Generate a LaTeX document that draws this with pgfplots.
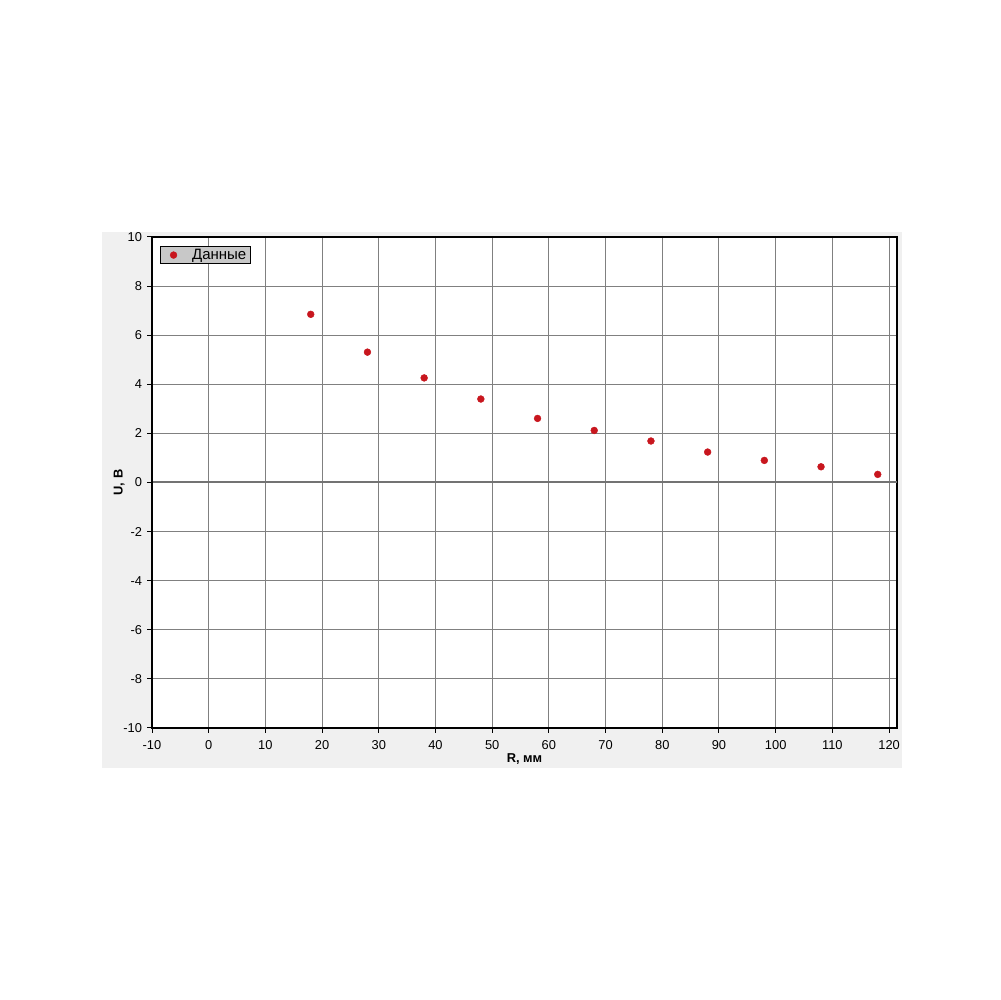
\documentclass[border=0pt]{standalone}
\usepackage{fontspec}
\setmainfont{Liberation Sans}
\usepackage{pgfplots}
\pgfplotsset{compat=1.18}
\definecolor{panel}{RGB}{240,240,240}
\definecolor{gridgray}{RGB}{128,128,128}
\definecolor{legfill}{RGB}{200,200,200}
\definecolor{dotred}{RGB}{200,22,30}
\begin{document}
\begin{tikzpicture}
\fill[white] (-106.4pt,-190.4pt) rectangle (593.6pt,509.6pt);
\fill[panel] (-35pt,-28pt) rectangle (525pt,347.2pt);
\begin{axis}[
  at={(0,0)}, anchor=south west,
  scale only axis, width=521.5pt, height=343.7pt,
  xmin=-10, xmax=121.4, ymin=-10, ymax=10,
  xtick={-10,0,...,120}, ytick={-10,-8,...,10},
  axis background/.style={fill=white},
  axis line style={black, line width=0.8pt},
  grid=major, major grid style={gridgray, line width=0.7pt},
  tick pos=left, tick align=outside, major tick length=3.5pt,
  tick style={black, line width=0.7pt},
  font=\fontsize{9}{10}\selectfont,
  ticklabel style={font=\fontsize{9}{10}\selectfont},
  xticklabel style={yshift=-1.5pt},
  /pgf/number format/assume math mode=true,
  xlabel={\textbf{R, мм}}, ylabel={\textbf{U, В}},
  xlabel style={font=\fontsize{9}{10}\selectfont, yshift=3.5pt},
  ylabel style={font=\fontsize{9}{10}\selectfont, yshift=-7.7pt},
  legend style={at={(0,1)}, anchor=north west, xshift=5.6pt, yshift=-6.3pt,
    fill=legfill, draw=black, line width=1pt, font=\fontsize{10.5}{11}\selectfont,
    inner xsep=1pt, inner ysep=0.3pt, row sep=0pt,
    nodes={inner ysep=1.2pt, inner xsep=2pt}},
  legend image code/.code={\path[draw=none,fill=none] (0pt,0pt) rectangle (19pt,0pt); \path[#1, draw=none] plot coordinates {(8pt,0pt)};},
  legend cell align=left,
]
\addplot[only marks, mark=*, mark size=2.4pt, color=dotred, mark options={fill=dotred, draw=dotred, line width=0.3pt}]
  coordinates {(18,6.85) (28,5.31) (38,4.26) (48,3.40) (58,2.61) (68,2.12) (78,1.69) (88,1.24) (98,0.90) (108,0.64) (118,0.33)};
\legend{Данные}
\draw[gridgray!90!black, line width=1.4pt] (axis cs:-10,0) -- (axis cs:121.4,0);
\draw[black, line width=2pt] (rel axis cs:0,1) -- (rel axis cs:0,0) -- (rel axis cs:1,0);
\end{axis}
\end{tikzpicture}
\end{document}
